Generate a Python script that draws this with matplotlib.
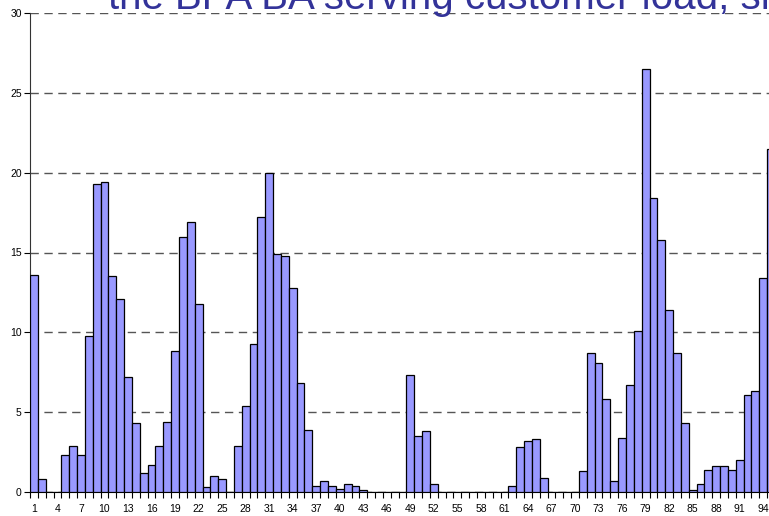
import numpy as np
import matplotlib.pyplot as plt
from matplotlib.ticker import FixedLocator

# hourly values, bar 1..95
hours = list(range(1, 96))
values = [
    13.6, 0.8, 0.0, 0.0, 2.3, 2.9, 2.3, 9.8, 19.3, 19.4,
    13.5, 12.1, 7.2, 4.3, 1.2, 1.7, 2.9, 4.4, 8.8, 16.0,
    16.9, 11.8, 0.3, 1.0, 0.8, 0.0, 2.9, 5.4, 9.3, 17.2,
    20.0, 14.9, 14.8, 12.8, 6.8, 3.9, 0.4, 0.7, 0.4, 0.2,
    0.5, 0.4, 0.1, 0.0, 0.0, 0.0, 0.0, 0.0, 7.3, 3.5,
    3.8, 0.5, 0.0, 0.0, 0.0, 0.0, 0.0, 0.0, 0.0, 0.0,
    0.0, 0.4, 2.8, 3.2, 3.3, 0.9, 0.0, 0.0, 0.0, 0.0,
    1.3, 8.7, 8.1, 5.8, 0.7, 3.4, 6.7, 10.1, 26.5, 18.4,
    15.8, 11.4, 8.7, 4.3, 0.1, 0.5, 1.4, 1.6, 1.6, 1.4,
    2.0, 6.1, 6.3, 13.4, 21.5,
]
tick_labels = [str(h) for h in hours[::3]]
y_ticks = [0, 5, 10, 15, 20, 25, 30]
title = "the BPA BA serving customer load, sh"

plt.rcParams["font.family"] = ["Liberation Sans", "DejaVu Sans"]

fig = plt.figure(figsize=(7.69, 5.16), dpi=100)

# axes runs past the right edge, like the cropped original
ax = fig.add_axes([30 / 769, 24 / 516, 745 / 769, 479 / 516])

ax.bar(
    hours,
    values,
    width=1.0,
    color="#9999FF",
    edgecolor="black",
    linewidth=0.9,
    zorder=3,
)

ax.set_xlim(0.5, 95.5)
ax.set_ylim(0, 30)

ax.set_yticks(y_ticks)
ax.yaxis.grid(True, linestyle=(0, (6, 4)), color="#555555", linewidth=1.0)
ax.set_axisbelow(True)

ax.set_xticks(hours[::3])
ax.set_xticklabels(tick_labels, fontsize=7.5)
ax.xaxis.set_minor_locator(FixedLocator(np.arange(0.5, 96, 1.0)))
ax.tick_params(axis="x", which="major", length=0, pad=9)
ax.tick_params(axis="x", which="minor", length=4, width=0.8, direction="out")
ax.tick_params(axis="y", labelsize=7.5, length=4, width=0.8, pad=2)

for side in ["top", "right"]:
    ax.spines[side].set_visible(False)
ax.spines["left"].set_color("#333333")
ax.spines["bottom"].set_color("black")

fig.text(
    108 / 769,
    1 - 9 / 516,
    title,
    color="#333399",
    fontsize=29,
    ha="left",
    va="baseline",
)

fig.savefig("out.png", dpi=100)
